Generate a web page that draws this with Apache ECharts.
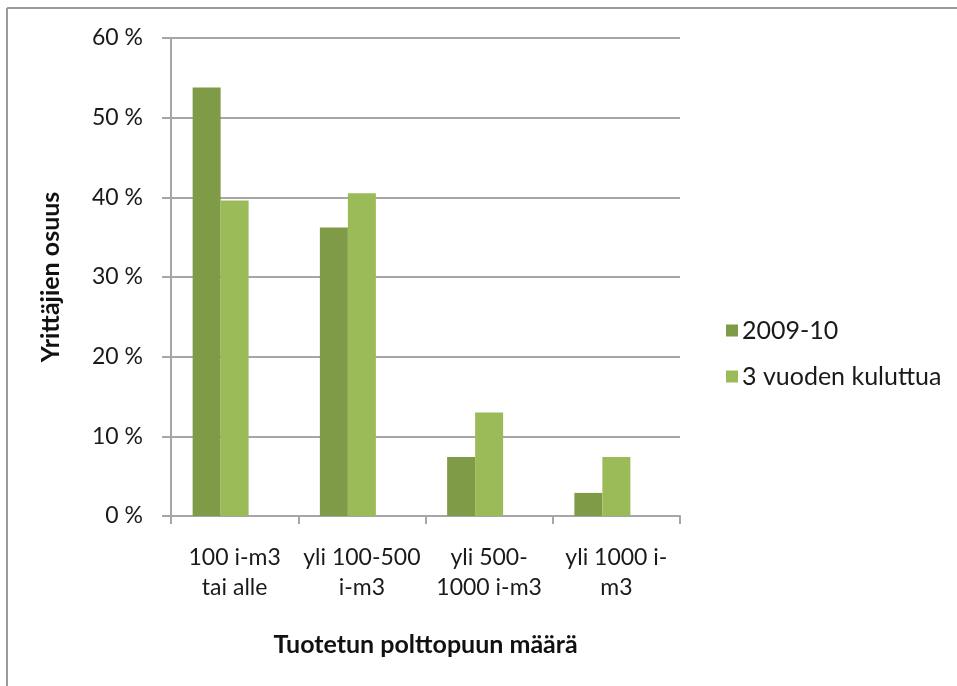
<!DOCTYPE html>
<html>
<head>
<meta charset="utf-8">
<script src="https://cdn.jsdelivr.net/npm/echarts@6/dist/echarts.min.js"></script>
<style>
  html, body { margin: 0; padding: 0; background: #fff; }
  #chart { width: 957px; height: 686px; }
</style>
</head>
<body>
<div id="chart"></div>
<script>
// data
const categories = ['100 i-m3\ntai alle', 'yli 100-500\ni-m3', 'yli 500-\n1000 i-m3', 'yli 1000 i-\nm3']
const seriesNames = ['2009-10', '3 vuoden kuluttua']
const values2009 = [53.8, 36.2, 7.4, 2.9]
const values3y = [39.6, 40.5, 13.0, 7.4]
// the original has an empty third slot in every group, which pushes the bars left
const emptySlot = [null, null, null, null]
const colors = ['#7f9b48', '#9bbb59']

const font = 'Lato, "Open Sans", sans-serif'

const chart = echarts.init(document.getElementById('chart'))

chart.setOption({
  backgroundColor: '#fff',
  animation: false,
  textStyle: { fontFamily: font },
  grid: { left: 171, right: 277, top: 38, bottom: 170, containLabel: false },
  legend: {
    orient: 'vertical',
    left: 721,
    top: 313,
    itemWidth: 12,
    itemHeight: 12,
    itemGap: 21,
    icon: 'rect',
    textStyle: { fontFamily: font, fontSize: 25, color: '#1a1a1a', padding: [0, 0, 0, -1] },
    data: seriesNames
  },
  xAxis: {
    type: 'category',
    data: categories,
    name: 'Tuotetun polttopuun määrä',
    nameLocation: 'middle',
    nameGap: 116,
    nameTextStyle: { fontFamily: font, fontSize: 25, fontWeight: 'bold', color: '#111' },
    axisLine: { lineStyle: { color: '#a6a6a6', width: 2 } },
    axisTick: { show: true, length: 8, lineStyle: { color: '#a6a6a6', width: 2 } },
    axisLabel: { fontFamily: font, fontSize: 23, color: '#1a1a1a', lineHeight: 30, margin: 27, interval: 0 }
  },
  yAxis: {
    type: 'value',
    min: 0,
    max: 60,
    interval: 10,
    name: 'Yrittäjien osuus',
    nameLocation: 'middle',
    nameGap: 108,
    nameRotate: 90,
    nameTextStyle: { fontFamily: font, fontSize: 25, fontWeight: 'bold', color: '#111' },
    axisLine: { show: true, lineStyle: { color: '#a6a6a6', width: 2 } },
    axisTick: { show: true, length: 9, lineStyle: { color: '#a6a6a6', width: 2 } },
    axisLabel: { fontFamily: font, fontSize: 23, color: '#1a1a1a', margin: 28, formatter: v => v + ' %' },
    splitLine: { lineStyle: { color: '#a6a6a6', width: 2 } }
  },
  series: [
    {
      name: seriesNames[0],
      type: 'bar',
      data: values2009,
      itemStyle: { color: colors[0] },
      barGap: '0%',
      barCategoryGap: '34%'
    },
    {
      name: seriesNames[1],
      type: 'bar',
      data: values3y,
      itemStyle: { color: colors[1] },
      barGap: '0%',
      barCategoryGap: '34%'
    },
    {
      name: 'empty',
      type: 'bar',
      data: emptySlot,
      barGap: '0%',
      barCategoryGap: '34%'
    }
  ],
  graphic: [
    { type: 'line', shape: { x1: 7, y1: 8, x2: 957, y2: 8 }, style: { stroke: '#9a9a9a', lineWidth: 2 } },
    { type: 'line', shape: { x1: 7, y1: 8, x2: 7, y2: 686 }, style: { stroke: '#9a9a9a', lineWidth: 2 } }
  ]
})
</script>
</body>
</html>
